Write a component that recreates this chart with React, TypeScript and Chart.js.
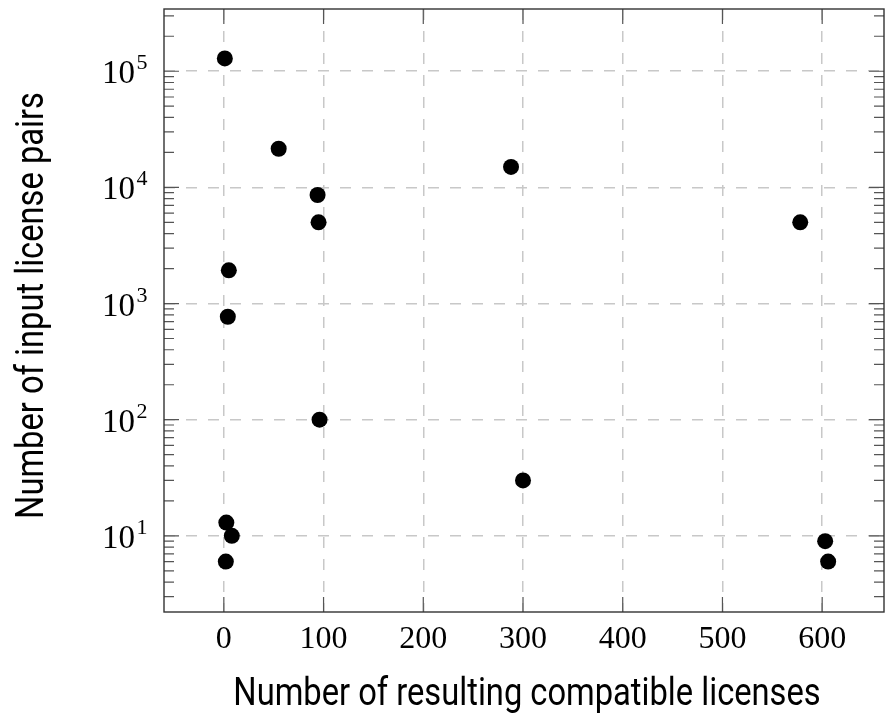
import { useEffect, useRef } from 'react';
import { Chart, registerables } from 'chart.js';

Chart.register(...registerables);

// Data
const compatibleLicenses = [1, 55, 94, 95, 5, 4, 96, 288, 578, 300, 603, 606, 2.5, 8, 2];
const inputLicensePairs = [129000, 21500, 8600, 5000, 1930, 770, 100, 15000, 5000, 30, 9, 6, 13, 10, 6];

// Tick labels
const xTickValues = [0, 100, 200, 300, 400, 500, 600];
const yTickExponents = [1, 2, 3, 4, 5];

const xTitle = 'Number of resulting compatible licenses';
const yTitle = 'Number of input license pairs';

const framePlugin = {
  id: 'pgfFrame',
  afterDatasetsDraw(chart: any) {
    const { ctx, chartArea: a, scales } = chart;
    const xs = scales.x;
    const ys = scales.y;
    ctx.save();

    // inward tick marks
    ctx.strokeStyle = '#555';
    ctx.lineWidth = 1.2;
    ctx.setLineDash([]);
    ctx.beginPath();
    xTickValues.forEach((v) => {
      const px = xs.getPixelForValue(v);
      ctx.moveTo(px, a.bottom);
      ctx.lineTo(px, a.bottom - 15);
      ctx.moveTo(px, a.top);
      ctx.lineTo(px, a.top + 15);
    });
    const lo = Math.floor(Math.log10(ys.min));
    const hi = Math.ceil(Math.log10(ys.max));
    for (let e = lo; e <= hi; e++) {
      for (let m = 1; m <= 9; m++) {
        const v = m * Math.pow(10, e);
        if (v < ys.min || v > ys.max) continue;
        const len = m === 1 ? 15 : 10;
        const py = ys.getPixelForValue(v);
        ctx.moveTo(a.left, py);
        ctx.lineTo(a.left + len, py);
        ctx.moveTo(a.right, py);
        ctx.lineTo(a.right - len, py);
      }
    }
    ctx.stroke();

    // frame
    ctx.strokeStyle = '#333';
    ctx.lineWidth = 1.4;
    ctx.strokeRect(a.left, a.top, a.right - a.left, a.bottom - a.top);

    // y tick labels 10^k
    ctx.fillStyle = '#000';
    ctx.textBaseline = 'alphabetic';
    ctx.textAlign = 'right';
    const labelRight = a.left - 16.5;
    yTickExponents.forEach((k) => {
      const py = ys.getPixelForValue(Math.pow(10, k));
      ctx.font = '22px "Liberation Serif", "Times New Roman", serif';
      const sup = String(k);
      const supW = ctx.measureText(sup).width;
      ctx.fillText(sup, labelRight, py - 2);
      ctx.font = '33px "Liberation Serif", "Times New Roman", serif';
      ctx.fillText('10', labelRight - supW - 1.5, py + 12);
    });

    // axis titles
    ctx.font = '38px Roboto, "Noto Sans", sans-serif';
    ctx.textAlign = 'center';
    ctx.save();
    ctx.translate((a.left + a.right) / 2 + 3, 705);
    ctx.scale(0.86, 1);
    ctx.fillText(xTitle, 0, 0);
    ctx.restore();

    ctx.save();
    ctx.translate(43, (a.top + a.bottom) / 2 - 5);
    ctx.rotate(-Math.PI / 2);
    ctx.scale(0.86, 1);
    ctx.fillText(yTitle, 0, 0);
    ctx.restore();

    ctx.restore();
  },
};

export default function App() {
  const canvasRef = useRef<HTMLCanvasElement | null>(null);

  useEffect(() => {
    document.body.style.margin = '0';
    const canvas = canvasRef.current;
    if (!canvas) return;
    const gridColor = 'rgba(200,200,200,1)';
    const chart = new Chart(canvas, {
      type: 'scatter',
      data: {
        datasets: [
          {
            data: compatibleLicenses.map((x, i) => ({ x, y: inputLicensePairs[i] })),
            backgroundColor: '#000',
            borderColor: '#000',
            borderWidth: 0,
            pointRadius: 8,
            pointHoverRadius: 8,
          },
        ],
      },
      options: {
        animation: false,
        responsive: false,
        events: [],
        layout: { autoPadding: false, padding: { top: 9, right: 1, left: 0, bottom: 0 } },
        plugins: { legend: { display: false }, tooltip: { enabled: false } },
        scales: {
          x: {
            type: 'linear',
            min: -60,
            max: 662,
            afterBuildTicks: (s: any) => {
              s.ticks = xTickValues.map((v) => ({ value: v }));
            },
            afterFit: (s: any) => {
              s.height = 103;
              s.paddingLeft = 0;
              s.paddingRight = 0;
            },
            grid: { color: gridColor, lineWidth: 1.5, drawTicks: false, tickLength: 0 },
            border: { display: false, dash: [11, 11] },
            ticks: {
              color: '#000',
              font: { family: '"Liberation Serif", "Times New Roman", serif', size: 32 },
              padding: 8,
              autoSkip: false,
              maxRotation: 0,
            },
          },
          y: {
            type: 'logarithmic',
            min: 2.21,
            max: 343400,
            afterBuildTicks: (s: any) => {
              s.ticks = yTickExponents.map((k) => ({ value: Math.pow(10, k), major: true }));
            },
            afterFit: (s: any) => {
              s.width = 164;
              s.paddingTop = 0;
              s.paddingBottom = 0;
            },
            grid: { color: gridColor, lineWidth: 1.5, drawTicks: false, tickLength: 0 },
            border: { display: false, dash: [11, 11] },
            ticks: { display: false },
          },
        },
      },
      plugins: [framePlugin],
    });
    return () => chart.destroy();
  }, []);

  return (
    <div style={{ width: 885, height: 715 }}>
      <canvas ref={canvasRef} width={885} height={715} style={{ display: 'block' }} />
    </div>
  );
}
